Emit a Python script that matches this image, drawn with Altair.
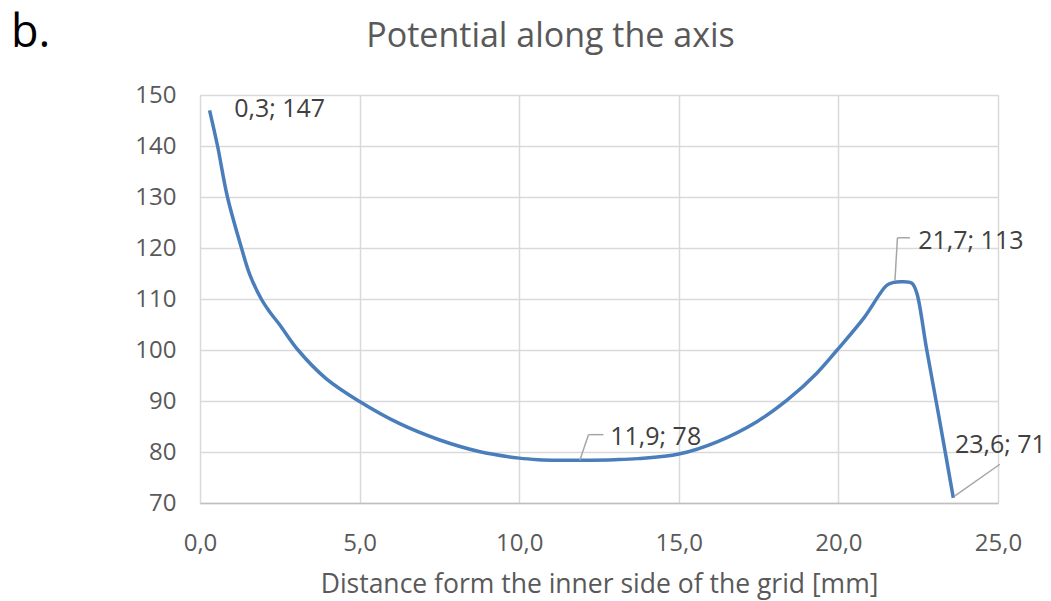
import altair as alt
import pandas as pd

# Curve
dist = [0.3, 0.55, 0.86, 1.30, 1.56, 1.92, 2.18, 2.49, 3.07, 3.95, 5.0, 6.24,
        7.49, 8.74, 10.0, 10.6, 11.3, 11.9, 13.0, 13.72, 15.0, 16.2, 17.46,
        18.4, 19.33, 19.96, 20.8, 21.5, 21.7, 22.0, 22.3, 22.45, 22.76, 23.17,
        23.6]
potential = [147, 140, 130, 120, 114.8, 110, 107.5, 105.0, 100, 94.4, 89.9,
             85.6, 82.4, 80.1, 78.8, 78.5, 78.4, 78.4, 78.5, 78.7, 79.6, 82.0,
             86.0, 90.2, 95.5, 100, 106.3, 112.6, 113.2, 113.4, 113.1, 111.3,
             100.3, 86.2, 71]

# Point labels (text, label anchor x, label anchor y)
label_text = ["0,3; 147", "11,9; 78", "21,7; 113", "23,6; 71"]
label_x = [1.07, 12.85, 22.5, 23.65]
label_y = [147.2, 82.9, 121.3, 81.4]

# Leader lines (segment start/end in data units)
lead_x = [11.9, 12.17, 21.77, 21.85, 23.65]
lead_y = [78.4, 83.4, 113.5, 122.0, 71.4]
lead_x2 = [12.17, 12.64, 21.85, 22.24, 25.06]
lead_y2 = [83.4, 83.4, 122.0, 122.0, 77.6]

x_ticks = [0, 5, 10, 15, 20, 25]
y_ticks = [70, 80, 90, 100, 110, 120, 130, 140, 150]

TITLE = "Potential along the axis"
PANEL = "b."

FONT = "Open Sans"
GREY = "#595959"

curve = pd.DataFrame({"x": dist, "y": potential})
labels = pd.DataFrame({"t": label_text, "x": label_x, "y": label_y})
leads = pd.DataFrame({"x": lead_x, "y": lead_y, "x2": lead_x2, "y2": lead_y2})

xs = alt.Scale(domain=[0, 25], nice=False, zero=False)
ys = alt.Scale(domain=[70, 150], nice=False, zero=False)

line = alt.Chart(curve).mark_line(
    color="#4a7ebb", strokeWidth=3.5, interpolate="catmull-rom"
).encode(
    x=alt.X("x:Q", scale=xs, axis=alt.Axis(
        values=x_ticks, title="Distance form the inner side of the grid [mm]",
        labelExpr="replace(format(datum.value, '.1f'), '.', ',')",
        labelFontSize=24, labelColor=GREY, labelFont=FONT, labelPadding=28,
        titleFont=FONT, titleFontSize=26.5, titleColor=GREY, titleFontWeight="normal",
        titlePadding=16, ticks=False, domainColor="#bfbfbf", domainWidth=1.5,
        gridColor="#d9d9d9", gridWidth=1.5, labelFlush=False, labelOverlap=False)),
    y=alt.Y("y:Q", scale=ys, axis=alt.Axis(
        values=y_ticks, title=None, labelFontSize=24, labelColor=GREY,
        labelFont=FONT, labelPadding=24, ticks=False, domain=False,
        gridColor="#d9d9d9", gridWidth=1.5, labelFlush=False, labelOverlap=False)),
)

rules = alt.Chart(leads).mark_rule(color="#a6a6a6", strokeWidth=1.5).encode(
    x=alt.X("x:Q", scale=xs), y=alt.Y("y:Q", scale=ys),
    x2="x2:Q", y2="y2:Q",
)

texts = alt.Chart(labels).mark_text(
    align="left", baseline="middle", font=FONT, fontSize=25, color="#404040"
).encode(x=alt.X("x:Q", scale=xs), y=alt.Y("y:Q", scale=ys), text="t:N")

title = alt.Chart(pd.DataFrame({"t": [TITLE]})).mark_text(
    align="center", baseline="alphabetic", font=FONT, fontSize=34, color=GREY
).encode(x=alt.value(350.5), y=alt.value(-47.7), text="t:N")

tag = alt.Chart(pd.DataFrame({"t": [PANEL]})).mark_text(
    align="left", baseline="alphabetic", font=FONT, fontSize=45, color="#000000"
).encode(x=alt.value(-189), y=alt.value(-48), text="t:N")

chart = alt.layer(line, rules, texts, title, tag).properties(
    width=798, height=408,
    autosize=alt.AutoSizeParams(type="none"),
    padding={"left": 200, "top": 95, "right": 53, "bottom": 98},
).configure_view(stroke=None).configure(background="white")

chart.save("out.html", embed_options={"renderer": "svg", "actions": False})
